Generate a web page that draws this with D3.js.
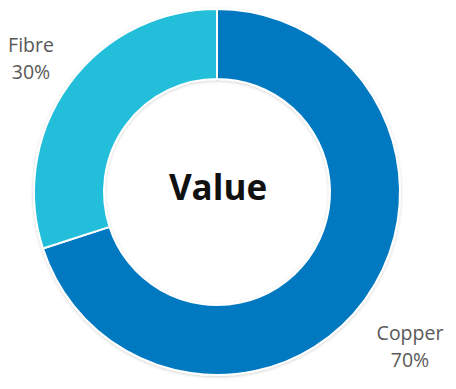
<!DOCTYPE html>
<html>
<head>
<meta charset="utf-8">
<script src="https://cdn.jsdelivr.net/npm/d3@7"></script>
<style>
html,body{margin:0;padding:0;background:#fff;}
svg{display:block;}
</style>
</head>
<body>
<svg id="chart" width="456" height="389"></svg>
<script>
const categories = ["Copper", "Fibre"];
const values = [70, 30];
const labels = ["70%", "30%"];
const colors = ["#0279C1", "#21BEDA"];
const centerTitle = "Value";

const svg = d3.select("#chart");
const cx = 217, cy = 192, outerR = 183, innerR = 113;

const defs = svg.append("defs");
const f = defs.append("filter").attr("id","sh").attr("x","-10%").attr("y","-10%").attr("width","120%").attr("height","120%");
f.append("feDropShadow").attr("dx",0).attr("dy",1).attr("stdDeviation",1.5).attr("flood-color","#000").attr("flood-opacity",0.18);

const g = svg.append("g").attr("transform", `translate(${cx},${cy})`);
const pie = d3.pie().sort(null).value(d => d.v);
const arc = d3.arc().innerRadius(innerR).outerRadius(outerR);
const data = categories.map((c,i)=>({c, v: values[i], l: labels[i], col: colors[i]}));
const arcs = pie(data);

g.append("g").attr("filter","url(#sh)")
  .selectAll("path").data(arcs).join("path")
  .attr("d", arc)
  .attr("fill", d => d.data.col)
  .attr("stroke", "#fff")
  .attr("stroke-width", 2);

g.append("text")
  .attr("x", 1).attr("y", 8)
  .attr("text-anchor","middle")
  .attr("font-family","'Open Sans', sans-serif")
  .attr("font-weight", 700)
  .attr("font-size", 35)
  .attr("fill","#111")
  .text(centerTitle);

const labelPos = [[410-cx, 340-cy], [31-cx, 52-cy]];
arcs.forEach((d,i) => {
  const t = g.append("text")
    .attr("text-anchor","middle")
    .attr("font-family","'Open Sans', sans-serif")
    .attr("font-size", 19.5)
    .attr("fill","#595959");
  t.append("tspan").attr("x", labelPos[i][0]).attr("y", labelPos[i][1]).text(d.data.c);
  t.append("tspan").attr("x", labelPos[i][0]).attr("y", labelPos[i][1] + 27).text(d.data.l);
});
</script>
</body>
</html>
